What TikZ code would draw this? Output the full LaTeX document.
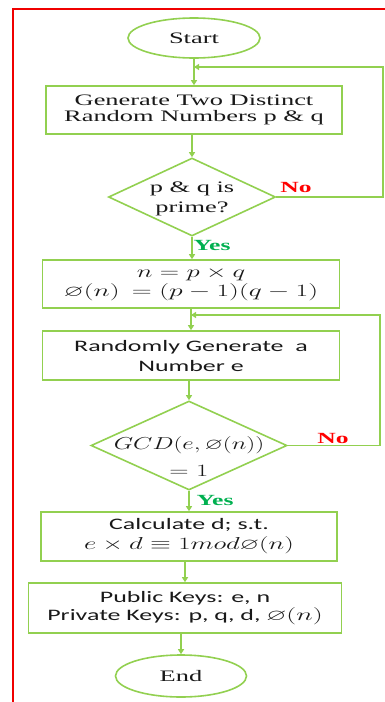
\documentclass[tikz,border=0pt]{standalone}
\usepackage{amssymb}
\usepackage{graphicx}
\usepackage{fontspec}
\setmainfont{Liberation Serif}
\newfontfamily\calib{Carlito}
\usetikzlibrary{shapes.geometric,arrows.meta}
\definecolor{lgreen}{RGB}{146,208,80}
\definecolor{ygreen}{RGB}{0,176,80}
\definecolor{nred}{RGB}{255,0,0}
\definecolor{frame}{RGB}{240,0,0}
\definecolor{txt}{RGB}{25,25,25}
\newcommand\sr[1]{\scalebox{1.65}[1]{#1}}
\newcommand\sfx[1]{\scalebox{1.62}[1]{\calib #1}}
\newcommand\mx[2][1.55]{\scalebox{#1}[1]{$#2$}}
\newcommand\zt[2][0pt]{\smash{\makebox[0pt]{\raisebox{\dimexpr-0.25em-#1\relax}{\begin{tabular}{@{}c@{}}#2\end{tabular}}}}}
\tikzset{
  gline/.style={draw=lgreen, line width=1.6pt},
  arr/.style={gline, -{Triangle[width=6pt,length=5pt]}},
  oval/.style={gline, ellipse, inner sep=0pt, text=txt},
  stepbox/.style={gline, rectangle, inner sep=2pt, align=center, text=txt},
  dia/.style={gline, diamond, inner sep=0pt, text=txt},
  yeslab/.style={text=ygreen, font=\fontsize{15.5}{16}\selectfont\bfseries},
  nolab/.style={text=nred, font=\fontsize{15.5}{16}\selectfont\bfseries},
}
\begin{document}
\begin{tikzpicture}[x=1pt,y=-1pt]
\useasboundingbox (0,0) rectangle (385,702);
% red frame
\draw[frame, line width=1.8pt] (390,9) -- (13,9) -- (13,710);

\node[oval, minimum width=132pt, minimum height=40pt, font=\fontsize{16}{16}\selectfont] (start) at (194,38) {\sr{Start}};
\node[stepbox, minimum width=296pt, minimum height=48pt, font=\fontsize{16}{16}\selectfont] (b1) at (194,110)
  {\sr{Generate Two Distinct}\\\sr{Random Numbers p \& q}};
\node[dia, minimum width=167pt, minimum height=78pt, font=\fontsize{16}{20}\selectfont] (d1) at (192,197)
  {\zt[2pt]{\sr{p \& q is}\\\sr{prime?}}};
\node[stepbox, minimum width=297pt, minimum height=48pt, font=\fontsize{16}{19}\selectfont] (b2) at (191,284)
  {\mx{n = p \times q}\\\mx[1.6]{\varnothing(n)\,= (p-1)(q-1)}};
\node[stepbox, minimum width=297pt, minimum height=49pt, font=\fontsize{16}{20}\selectfont] (b3) at (191,355.5)
  {\sfx{Randomly Generate\ \ a}\\\sfx{Number e}};
\node[dia, minimum width=196pt, minimum height=89pt, font=\fontsize{16}{27}\selectfont] (d2) at (189,445.5)
  {\zt[12pt]{\mx[1.45]{GCD\bigl(e,\varnothing(n)\bigr)}\\\mx{=1}}};
\node[stepbox, minimum width=296pt, minimum height=49pt, font=\fontsize{16}{20}\selectfont] (b4) at (189,536.5)
  {\sfx{Calculate d; s.t.}\\\mx{e\times d\equiv 1mod\varnothing(n)}};
\node[stepbox, minimum width=313pt, minimum height=50pt, font=\fontsize{16}{18}\selectfont] (b5) at (185,608)
  {\sfx{Public Keys: e,\ n}\\\sfx{Private Keys: p, q, d, $\varnothing(n)$}};
\node[oval, minimum width=131pt, minimum height=42pt, font=\fontsize{16}{16}\selectfont] (end) at (181,676) {\sr{End}};

% main flow
\draw[arr] (start.south) -- (start.south |- b1.north);
\draw[arr] (b1.south -| d1.north) -- (d1.north);
\draw[arr] (d1.south) -- (d1.south |- b2.north);
\draw[arr] (b2.south) -- (b2.south |- b3.north);
\draw[arr] (b3.south -| d2.north) -- (d2.north);
\draw[arr] (d2.south) -- (d2.south |- b4.north);
\draw[arr] (b4.south -| b5.north) -- (b5.north);
\draw[arr] (b5.south -| end.north) -- (end.north);

% loops
\coordinate (j1) at (194,67);
\coordinate (j2) at (191,315);
\draw[arr] (d1.east) -- ++(106.5,0) |- (j1);
\draw[arr] (d2.east) -- ++(92,0) |- (j2);

% labels
\node[yeslab] (yes1) at (212,245) {\sr{Yes}};
\node[nolab] (no1) at (296,187.5) {\sr{No}};
\node[yeslab] (yes2) at (215,500) {\sr{Yes}};
\node[nolab] (no2) at (333,438) {\sr{No}};
\end{tikzpicture}
\end{document}
